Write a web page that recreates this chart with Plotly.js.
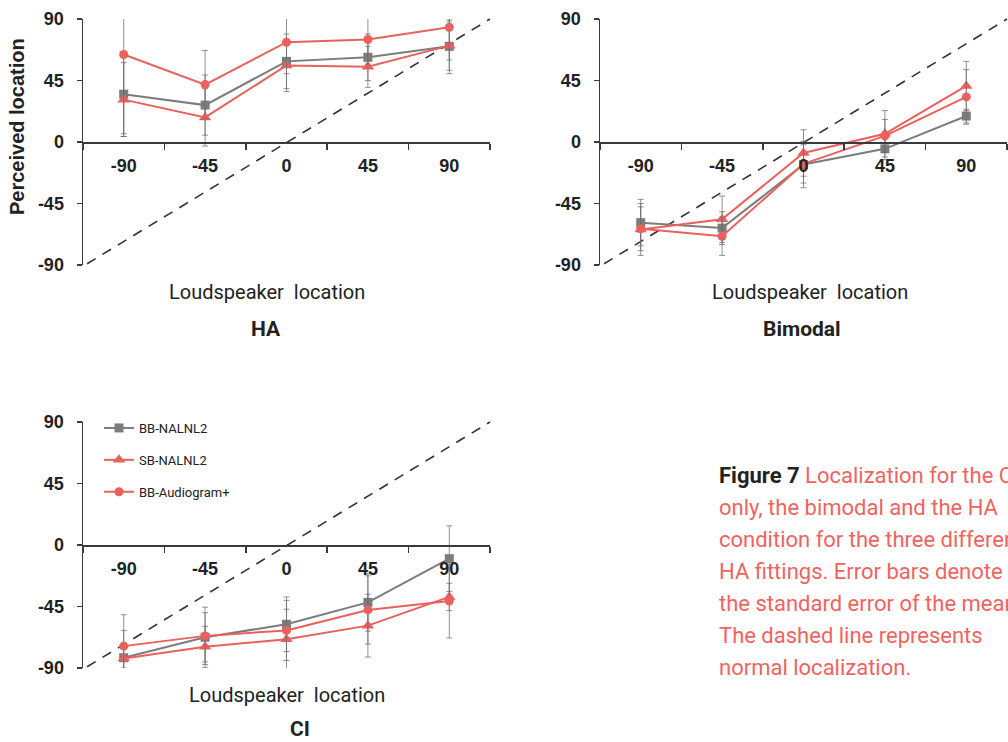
<!DOCTYPE html>
<html>
<head>
<meta charset="utf-8">
<script src="https://cdn.plot.ly/plotly-3.0.1.min.js"></script>
<style>
html,body{margin:0;padding:0;background:#fff;}
#chart{width:1008px;height:742px;}
</style>
</head>
<body>
<div id="chart"></div>
<script>
// ---------- data ----------
const categories = ['-90', '-45', '0', '45', '90'];
const seriesNames = ['BB-NALNL2', 'SB-NALNL2', 'BB-Audiogram+'];
const yTicks = [-90, -45, 0, 45, 90];
const yTickLabels = ['-90', '-45', '0', '45', '90'];

// HA condition
const haBB = [35, 27, 59, 62, 70];
const haBBErr = [29, 22, 20, 17, 20];
const haSB = [31, 18, 56, 55, 70.5];
const haSBErr = [27, 21, 19, 15, 18];
const haAud = [64, 42, 73, 75, 84];
const haAudErr = [60, 25, 23, 18, 24];

// Bimodal condition
const biBB = [-59, -63, -16.5, -5, 19];
const biBBErr = [17, 12, 17, 8, 5];
const biSB = [-64, -56.5, -8, 6, 41];
const biSBErr = [19, 17, 17, 17, 18];
const biAud = [-63.5, -69, -16, 4.5, 33];
const biAudErr = [16, 14, 14, 12, 20];

// CI only condition
const ciBB = [-82.5, -67.5, -58, -42, -10];
const ciBBErr = [20, 18, 20, 21, 24];
const ciSB = [-83, -74.5, -69, -59, -38];
const ciSBErr = [7, 15, 22, 23, 10];
const ciAud = [-74, -66.5, -62.5, -47.5, -41];
const ciAudErr = [23, 21, 22, 25, 27];

const panelTitles = ['HA', 'Bimodal', 'CI'];
const xTitle = 'Loudspeaker\u00a0\u00a0location';
const yTitle = 'Perceived location';
const captionLines = [
  '<b><span style="color:#222">Figure 7</span></b> Localization for the CI',
  'only, the bimodal and the HA',
  'condition for the three different',
  'HA fittings. Error bars denote',
  'the standard error of the mean.',
  'The dashed line represents',
  'normal localization.'
];

// ---------- styling ----------
const W = 1008, H = 742;
const GRAY = '#7c7c7c', RED = '#e9615c';
const styles = [
  {color: GRAY, symbol: 'square', size: 9},
  {color: RED, symbol: 'triangle-up', size: 11},
  {color: RED, symbol: 'circle', size: 9}
];
const TICKFONT = {family: '"Liberation Sans Narrow", "Liberation Sans", Arial, sans-serif', size: 18, color: '#222', weight: 'bold'};
const AXCOLOR = '#3a3a3a';

const panels = [
  {x: 'x', y: 'y', data: [[haBB, haBBErr], [haSB, haSBErr], [haAud, haAudErr]], px: [83, 490], py: [19, 265], xtX: 267, ptX: 266},
  {x: 'x2', y: 'y2', data: [[biBB, biBBErr], [biSB, biSBErr], [biAud, biAudErr]], px: [600, 1007], py: [19, 265], xtX: 810, ptX: 802},
  {x: 'x3', y: 'y3', data: [[ciBB, ciBBErr], [ciSB, ciSBErr], [ciAud, ciAudErr]], px: [83, 490], py: [422, 668], xtX: 287, ptX: 300}
];

const traces = [];
panels.forEach((p, pi) => {
  p.data.forEach((d, si) => {
    const st = styles[si];
    traces.push({
      type: 'scatter', mode: 'lines+markers',
      x: categories, y: d[0],
      xaxis: p.x, yaxis: p.y,
      name: seriesNames[si],
      legendgroup: 'g' + si,
      showlegend: pi === 2,
      line: {color: st.color, width: 2},
      marker: {color: st.color, symbol: st.symbol, size: st.size},
      error_y: {type: 'data', array: d[1], visible: true, color: 'rgba(110,110,110,0.75)', thickness: 1, width: 3},
      cliponaxis: true,
      hoverinfo: 'x+y+name'
    });
  });
});

const layout = {
  width: W, height: H,
  margin: {l: 0, r: 0, t: 0, b: 0},
  paper_bgcolor: '#fff', plot_bgcolor: 'rgba(0,0,0,0)',
  showlegend: true,
  legend: {
    x: 99 / W, y: 1 - 413 / H, xanchor: 'left', yanchor: 'top',
    font: {family: '"Liberation Sans Narrow", "Roboto", sans-serif', size: 13, color: '#222'},
    tracegroupgap: 12, bgcolor: 'rgba(0,0,0,0)', itemwidth: 30
  },
  shapes: [],
  annotations: []
};

panels.forEach((p, pi) => {
  const sfx = pi === 0 ? '' : String(pi + 1);
  const xd = [p.px[0] / W, p.px[1] / W];
  const yd = [1 - p.py[1] / H, 1 - p.py[0] / H];
  layout['xaxis' + sfx] = {
    type: 'category', domain: xd, range: [-0.5, categories.length - 0.5],
    anchor: 'free', position: (yd[0] + yd[1]) / 2,
    tickson: 'boundaries', ticks: 'outside', ticklen: 6, tickwidth: 1.5, tickcolor: AXCOLOR,
    ticklabelstandoff: 7,
    showline: true, linecolor: AXCOLOR, linewidth: 1.5,
    showgrid: false, zeroline: false, tickfont: TICKFONT, fixedrange: true
  };
  layout['yaxis' + sfx] = {
    domain: yd, range: [-90, 90], anchor: p.x,
    tickmode: 'array', tickvals: yTicks, ticktext: yTickLabels,
    ticks: 'outside', ticklen: 5, tickwidth: 1.5, tickcolor: AXCOLOR,
    ticklabelstandoff: 9,
    showline: true, linecolor: AXCOLOR, linewidth: 1.5,
    showgrid: false, zeroline: false, tickfont: TICKFONT, fixedrange: true
  };
  // normal localization reference (diagonal of the plot area)
  layout.shapes.push({
    type: 'line', xref: p.x + ' domain', yref: p.y + ' domain',
    x0: 0.01, y0: 0.005, x1: 1, y1: 1, layer: 'below',
    line: {color: '#333', width: 1.6, dash: '10px,8px'}
  });
  layout.annotations.push({
    text: xTitle, xref: 'paper', yref: 'paper', showarrow: false,
    x: p.xtX / W, y: 1 - (p.py[1] + 27) / H, xanchor: 'center', yanchor: 'middle',
    font: {family: 'Roboto, sans-serif', size: 20, color: '#222'}
  });
  layout.annotations.push({
    text: '<b>' + panelTitles[pi] + '</b>', xref: 'paper', yref: 'paper', showarrow: false,
    x: p.ptX / W, y: 1 - (p.py[1] + (pi === 2 ? 61 : 64)) / H, xanchor: 'center', yanchor: 'middle',
    font: {family: 'Roboto, sans-serif', size: 21, color: '#222'}
  });
});

layout.annotations.push({
  text: '<b>' + yTitle + '</b>', xref: 'paper', yref: 'paper', showarrow: false,
  x: 17 / W, y: 1 - 127 / H, xanchor: 'center', yanchor: 'middle', textangle: -90,
  font: {family: '"Liberation Sans Narrow", "Liberation Sans", sans-serif', size: 20, color: '#222'}
});

captionLines.forEach((t, i) => {
  layout.annotations.push({
    text: t, xref: 'paper', yref: 'paper', showarrow: false,
    x: 717 / W, y: 1 - (475 + 32 * i) / H, xanchor: 'left', yanchor: 'middle', align: 'left',
    font: {family: '"Liberation Sans Narrow", Roboto, sans-serif', size: 22, color: '#f0645f'}
  });
});

Plotly.newPlot('chart', traces, layout, {displayModeBar: false, staticPlot: true});
</script>
</body>
</html>
